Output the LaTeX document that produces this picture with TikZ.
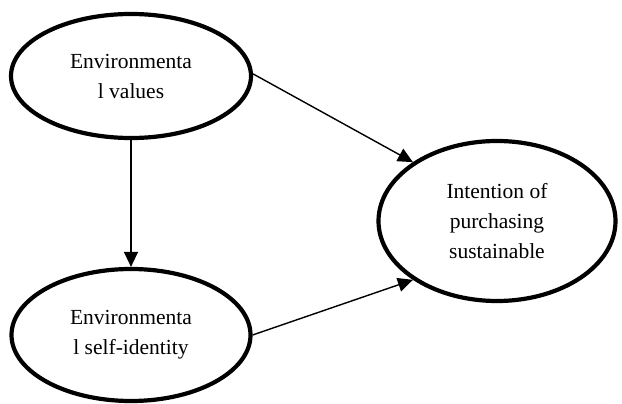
\documentclass[tikz,border=0pt]{standalone}
\usepackage{fontspec}
\setmainfont{Liberation Serif}
\usetikzlibrary{shapes.geometric,arrows.meta}
\tikzset{
  construct/.style={ellipse, draw=black, line width=4.2pt, inner sep=0pt, align=center,
    font=\fontsize{21.5}{30}\selectfont},
  link/.style={line width=1.4pt, -{Triangle[length=15pt,width=14pt]}}
}
\begin{document}
\begin{tikzpicture}[x=1pt,y=1pt]
\useasboundingbox (0,0) rectangle (622,-404);
\node[construct, minimum width=240pt, minimum height=124pt] (val) at (131,-76) {Environmenta\\l values};
\node[construct, minimum width=239pt, minimum height=132pt] (sid) at (131,-335) {Environmenta\\l self-identity};
\node[construct, minimum width=237pt, minimum height=160pt] (int) at (497,-221) {Intention of\\purchasing\\sustainable};
\draw[link] (val.south) -- (sid.north);
\draw[link] (val.1) -- (int.145);
\draw[link] (sid.east) -- (int.215);
\end{tikzpicture}
\end{document}
